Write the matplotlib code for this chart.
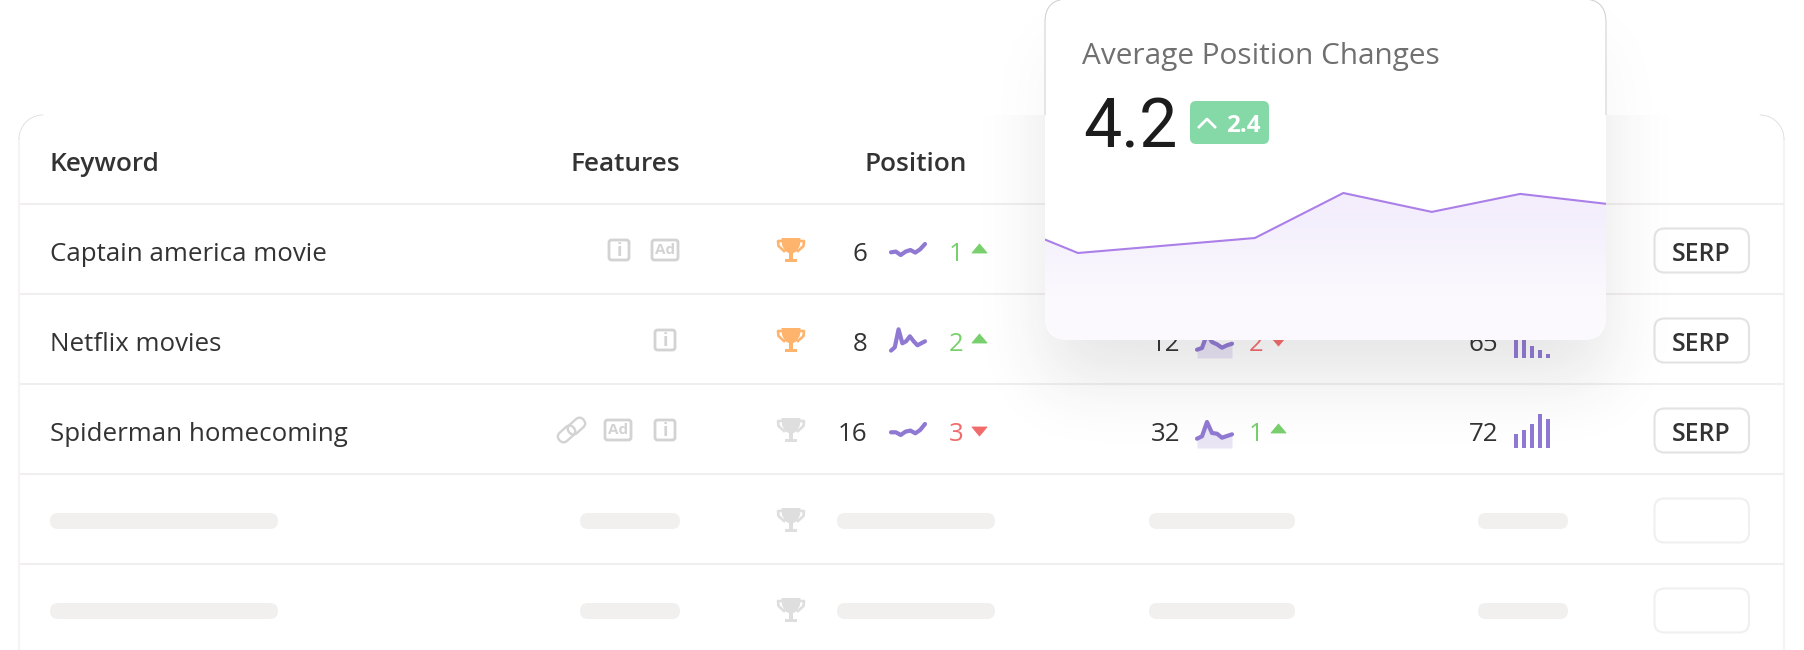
import math
import numpy as np
import matplotlib
matplotlib.use('Agg')
import matplotlib.pyplot as plt
from matplotlib.patches import FancyBboxPatch, Polygon, PathPatch, Rectangle
from matplotlib.path import Path
from matplotlib.transforms import Affine2D

W, H = 1804, 650

# table contents
keywords = ['Captain america movie', 'Netflix movies', 'Spiderman homecoming']
features = [['i', 'Ad'], ['i'], ['link', 'Ad', 'i']]
trophy_won = [True, True, False, False, False]
positions = [6, 8, 16]
position_changes = [1, 2, -3]
position_trends = [
    [6, 6.7, 3.3, 6.7, 8.3, 5.7, 9, 14.3],
    [2.7, 6, 24, 10, 12, 17, 12, 8, 10, 12],
    [6, 6, 3.3, 6.7, 7.7, 5, 8.3, 14.3],
]
# second metric, row 1 sits behind the card
metric_values = [None, 12, 32]
metric_changes = [None, -2, 1]
metric_trends = [
    None,
    [8.3, 10, 24, 16, 13.7, 10.3, 12.7, 14.3],
    [9.3, 11.7, 26, 15, 14.3, 10.3, 12, 13.7],
]
volumes = [None, 65, 72]
volume_bars = [None, [24, 22, 12, 8, 4], [14, 18, 24, 34, 29]]

# card contents
card_title = 'Average Position Changes'
card_value = '4.2'
card_delta = '2.4'
avg_index = [0, 1, 2, 3, 4, 5, 6, 7]
avg_values = [4.1, 2.9, 3.15, 3.4, 4.9, 4.27, 4.87, 4.53]

row_y = [250, 340, 430, 520, 610]
TEXT = '#333333'
GREEN = '#78d06c'
RED = '#f26b6b'
PURPLE = '#8f79d3'
ICON = '#d3d3d3'
LINE = '#f1eef0'
PILL = '#f1f0ef'

plt.rcParams['font.family'] = 'Open Sans'

fig = plt.figure(figsize=(W / 100, H / 100), dpi=100, facecolor='white')


def layer(z):
    a = fig.add_axes([0, 0, 1, 1], zorder=z)
    a.set_xlim(0, W)
    a.set_ylim(H, 0)
    a.axis('off')
    return a


def px_axes(x0, y0, x1, y1, z=2):
    # axes placed by pixel box, top-left origin
    a = fig.add_axes([x0 / W, 1 - y1 / H, (x1 - x0) / W, (y1 - y0) / H], zorder=z)
    a.axis('off')
    return a


def rbox(a, x0, y0, x1, y1, r, **kw):
    p = FancyBboxPatch((x0, y0), x1 - x0, y1 - y0,
                       boxstyle='round,pad=0,rounding_size=%g' % r, **kw)
    a.add_patch(p)
    return p


def trophy(a, cx, cy, color):
    a.add_patch(Polygon([(cx - 9.5, cy - 12), (cx + 9.5, cy - 12), (cx + 9, cy - 5), (cx + 6, cy + 1),
                         (cx + 2.5, cy + 3), (cx - 2.5, cy + 3), (cx - 6, cy + 1), (cx - 9, cy - 5)],
                        fc=color, ec='none'))
    for s in (-1, 1):
        a.plot([cx + s * 9, cx + s * 13, cx + s * 12.5, cx + s * 7],
               [cy - 9, cy - 9, cy - 4, cy + 1], color=color, lw=1.9)
    a.add_patch(Rectangle((cx - 2, cy + 3), 4, 6, fc=color, ec='none'))
    a.add_patch(Rectangle((cx - 6, cy + 8.5), 12, 3.5, fc=color, ec='none'))


def feature_icon(a, kind, x0, cy):
    if kind == 'link':
        for off in (-6.5, 6.5):
            cx = x0 + 14.5 + off * 0.76
            yy = cy - off * 0.6
            t = Affine2D().rotate_deg_around(cx, yy, -42) + a.transData
            p = FancyBboxPatch((cx - 9.5, yy - 5.5), 19, 11, boxstyle='round,pad=0,rounding_size=5.5',
                               fc='none', ec=ICON, lw=1.7, transform=t)
            a.add_patch(p)
        return
    w = 22 if kind == 'i' else 28
    rbox(a, x0 + 1, cy - 10, x0 + w - 1, cy + 10, 2.5, fc='white', ec=ICON, lw=2.0)
    a.text(x0 + w / 2, cy + 0.5, kind, ha='center', va='center', fontsize=11 if kind == 'Ad' else 13,
           fontweight='bold', color=ICON)


def triangle(a, x0, cy, up, color):
    if up:
        pts = [(x0, cy + 3), (x0 + 15, cy + 3), (x0 + 7.5, cy - 6)]
    else:
        pts = [(x0, cy - 3), (x0 + 15, cy - 3), (x0 + 7.5, cy + 6)]
    a.add_patch(Polygon(pts, fc=color, ec=color, lw=0.6, joinstyle='round'))


def change_cell(a, value, x_text, x_tri, cy):
    color = GREEN if value > 0 else RED
    a.text(x_text, cy + 11, str(abs(value)), ha='left', va='baseline', fontsize=18.5, color=color)
    triangle(a, x_tri, cy, value > 0, color)


def spark(values, x0, x1, y_base, height, area=False, lw=3.0):
    a = px_axes(x0, y_base - height, x1, y_base)
    xs = np.arange(len(values))
    a.set_xlim(0, len(values) - 1)
    a.set_ylim(0, height)
    if area:
        a.fill_between(xs, values, 0, color='#e9e5f5', lw=0)
    a.plot(xs, values, color=PURPLE, lw=lw, solid_capstyle='round', solid_joinstyle='round', clip_on=False)


def bars(values, x0, x1, y_base):
    height = max(values)
    a = px_axes(x0, y_base - height, x1, y_base)
    a.bar(range(len(values)), values, width=0.55, color=PURPLE)
    a.set_xlim(-0.278, len(values) - 1 + 0.278)
    a.set_ylim(0, height)


# ---- table layer
ax = layer(1)
rbox(ax, 19, 115, 1784, H + 40, 24, fc='white', ec='none')
for x in (19, 1784):
    ax.plot([x, x], [139, H], color='#f5f3f5', lw=1.5)
arc = np.linspace(0, np.pi / 2, 20)
ax.plot(43 - 24 * np.cos(arc), 139 - 24 * np.sin(arc), color='#dddddd', lw=0.6)
ax.plot(1760 + 24 * np.cos(arc), 139 - 24 * np.sin(arc), color='#dddddd', lw=0.6)
for y in [204, 294, 384, 474, 564]:
    ax.plot([20, 1784], [y, y], color=LINE, lw=1.5, solid_capstyle='butt')

ax.text(50, 171, 'Keyword', fontsize=18.9, fontweight=600, color=TEXT)
ax.text(680.5, 171, 'Features', fontsize=18.9, fontweight=600, color=TEXT, ha='right')
ax.text(915.5, 171, 'Position', fontsize=18.9, fontweight=600, color=TEXT, ha='center')

gap_before = {'link': 18, 'i': 21, 'Ad': 22}
for i, kw in enumerate(keywords):
    cy = row_y[i]
    ax.text(50, cy + 11, kw, fontsize=18.65, color=TEXT)
    # feature icons are right aligned to the column
    xr = 679 if features[i][-1] == 'Ad' else 676
    for kind in reversed(features[i]):
        w = {'i': 22, 'Ad': 28, 'link': 29}[kind]
        feature_icon(ax, kind, xr - w, cy)
        j = features[i].index(kind)
        if j > 0:
            xr = xr - w - gap_before[features[i][j - 1]]
    ax.text(867, cy + 11, str(positions[i]), ha='right', fontsize=18.65, color=TEXT)
    change_cell(ax, position_changes[i], 949, 972, cy)
    spark(position_trends[i], 891, 925, [258.3, 353.3, 438.3][i], [16.7, 27, 16.7][i])
    if metric_values[i] is not None:
        ax.text(1180, cy + 11, str(metric_values[i]), ha='right', fontsize=18.65, color=TEXT)
        change_cell(ax, metric_changes[i], 1249, 1271, cy)
        spark(metric_trends[i], 1197, 1232, cy + 18, 28, area=True)
        ax.text(1498, cy + 11, str(volumes[i]), ha='right', fontsize=18.65, color=TEXT)
        bars(volume_bars[i], 1514, 1550, cy + 17.7)

for i, cy in enumerate(row_y):
    trophy(ax, 791, cy, '#ffb46e' if trophy_won[i] else '#dedede')
    has_text = i < len(keywords)
    rbox(ax, 1654.5, cy - 21.5, 1749, cy + 22.5, 10, fc='white', ec='#e3e3e3' if has_text else '#f1eff0', lw=1.5)
    if has_text:
        ax.text(1701.5, cy + 11, 'SERP', ha='center', fontsize=17.9, fontweight=600, color=TEXT)
    else:
        for x0, x1 in [(50, 278), (580, 680), (837, 995), (1149, 1295), (1478, 1568)]:
            rbox(ax, x0, cy - 7, x1, cy + 9, 8, fc=PILL, ec='none')

# ---- shadow and card layer
over = layer(3)
sx0, sx1, sy0, sy1 = 1045, 1606, 40, 380
sigma = 34.0
gx, gy = np.meshgrid(np.arange(900, 1780), np.arange(0, 560))
erf = np.vectorize(math.erf)
cdf_x = 0.5 * (erf((np.arange(900, 1780) - sx0) / (sigma * 2 ** 0.5)) - erf((np.arange(900, 1780) - sx1) / (sigma * 2 ** 0.5)))
cdf_y = 0.5 * (erf((np.arange(0, 560) - sy0) / (sigma * 2 ** 0.5)) - erf((np.arange(0, 560) - sy1) / (sigma * 2 ** 0.5)))
alpha = np.outer(cdf_y, cdf_x) * 0.12
alpha[gy < 115] *= 0.35
rgba = np.zeros(alpha.shape + (4,))
rgba[..., :3] = np.array([0x3a, 0x30, 0x3a]) / 255
rgba[..., 3] = alpha
over.imshow(rgba, extent=(900, 1780, 560, 0), aspect='auto', interpolation='bilinear', zorder=1)
over.set_xlim(0, W)
over.set_ylim(H, 0)

rbox(over, 1045, -1, 1606, 340, 23, fc='white', ec='none', zorder=2)
edge = rbox(over, 1045, -1, 1606, 340, 23, fc='none', ec='#cdcdcd', lw=0.7, zorder=3)
edge.set_clip_path(Rectangle((1030, 0), 600, 115, transform=over.transData))

over.text(1082, 64, card_title, fontsize=21.4, color='#707070', zorder=4)
over.text(1083, 147, card_value, fontsize=49, color='#1c1c1c', family='Roboto', zorder=4)
rbox(over, 1190, 101, 1269, 144, 6, fc='#84d9a6', ec='none', zorder=4)
over.plot([1199, 1207, 1215], [127, 119, 127], color='white', lw=2, zorder=5)
over.text(1226, 132.5, card_delta, fontsize=17.5, fontweight='bold', color='white', zorder=5)

# ---- area chart inside the card
chart_top, chart_bottom = 160, 340
area_ax = px_axes(1045, chart_top, 1606, chart_bottom, z=4)
xmin, xmax = 0.627, 6.97
ymin, ymax = 0, 6
area_ax.set_xlim(xmin, xmax)
area_ax.set_ylim(ymin, ymax)

# outline of the filled area, bottom corners follow the card radius
rx = 22 * (xmax - xmin) / 561
ry = 22 * (ymax - ymin) / 180
t = np.linspace(0, np.pi / 2, 12)
inner_x = [xmin] + [v for v in avg_index if xmin < v < xmax] + [xmax]
inner_y = list(np.interp(inner_x, avg_index, avg_values))
poly_x = inner_x + list(xmax - rx + rx * np.cos(t)) + list(xmin + rx - rx * np.sin(t))
poly_y = inner_y + list(ry - ry * np.sin(t)) + list(ry - ry * np.cos(t))
clip = PathPatch(Path(np.column_stack([poly_x, poly_y])), transform=area_ax.transData)

c_top = np.array([0xf3, 0xed, 0xfc]) / 255
c_bot = np.array([0xfb, 0xf9, 0xfe]) / 255
rows = np.linspace(0, 1, 180)
mix = np.clip((rows - 0.25) / 0.5, 0, 1)[:, None, None]
grad = c_top[None, None, :] * (1 - mix) + c_bot[None, None, :] * mix
im = area_ax.imshow(grad, extent=(xmin, xmax, ymin, ymax), aspect='auto', origin='upper')
im.set_clip_path(clip)
area_ax.plot(avg_index, avg_values, color='#ab7fe8', lw=1.5, solid_joinstyle='miter')
area_ax.set_xlim(xmin, xmax)
area_ax.set_ylim(ymin, ymax)

fig.savefig('out.png', dpi=100)
